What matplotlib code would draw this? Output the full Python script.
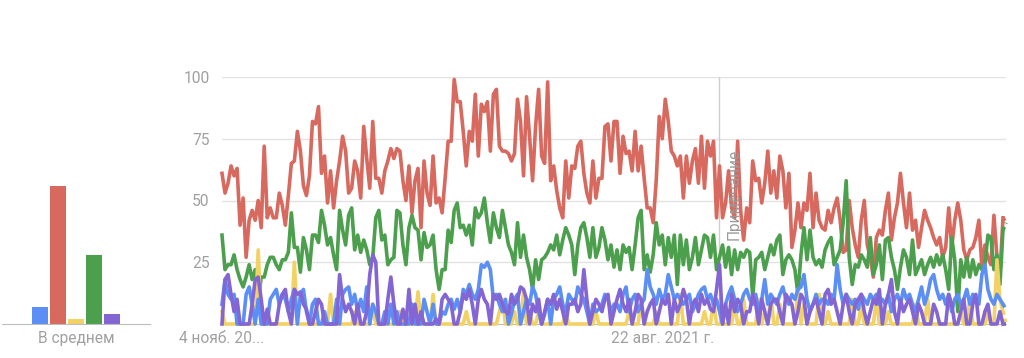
import matplotlib
matplotlib.use("Agg")
import matplotlib.pyplot as plt
import pandas as pd

plt.rcParams['font.family'] = ['Roboto', 'DejaVu Sans']

# weekly values
red = [61, 53, 57, 64, 60, 63, 40, 51, 27, 42, 46, 42, 50, 39, 72, 43, 47, 43, 43, 53,
       48, 40, 52, 65, 66, 78, 70, 56, 52, 60, 82, 81, 88, 61, 68, 49, 62, 47, 58, 66,
       76, 70, 53,
       55, 66, 62, 51, 80, 67, 55, 82, 59, 59, 53, 62, 66, 71, 67, 71, 70, 58, 50, 64,
       45, 58, 63, 39, 66, 53, 48, 68, 49, 51, 45, 59, 74, 74, 99, 90, 90, 78, 64, 78,
       74, 93, 68, 89,
       86, 90, 70, 93, 95, 72, 70, 70, 69, 66, 69, 91, 82, 60, 92, 76, 58, 80, 95, 68,
       65, 98, 58, 64, 54, 47, 43, 66, 51, 64, 63, 72, 74, 61, 53, 49, 66, 51, 59, 59,
       80, 81, 66, 82,
       82, 61, 76, 69, 70, 62, 78, 62, 72, 59, 47, 47, 41, 58, 84, 75, 91, 82, 70, 68,
       64, 68, 51, 68, 57, 66, 71, 57, 76, 55, 74, 68, 74, 43, 64, 43, 49, 62, 47, 43,
       74, 46, 34, 47,
       41, 66, 58, 59, 49, 57, 70, 53, 62, 51, 68, 62, 47, 61, 31, 38, 49, 39, 49, 46,
       61, 39, 53, 42, 39, 38, 46, 41, 47, 51, 42, 29, 30, 50, 39, 32, 27, 42, 50, 32,
       27, 19, 35, 38,
       36, 46, 53, 34, 43, 49, 61, 49, 39, 53, 38, 42, 31, 39, 46, 42, 39, 35, 32, 35,
       27, 31, 47, 31, 42, 49, 42, 30, 26, 30, 31, 35, 42, 23, 32, 27, 24, 44, 27, 20,
       43, 41]

green = [36, 22, 24, 24, 28, 22, 18, 15, 19, 24, 18, 22, 8, 19, 19, 24, 27, 27, 24, 22,
         26, 26, 29, 45, 31, 31, 21, 35, 30, 22, 36, 36, 33, 46, 40, 32, 35, 28, 22, 46,
         38, 32, 44,
         47, 30, 36, 29, 34, 30, 24, 27, 43, 46, 34, 36, 24, 26, 27, 46, 45, 32, 24, 39,
         44, 39, 38, 26, 37, 31, 32, 36, 22, 14, 22, 22, 38, 33, 46, 49, 39, 40, 36, 40,
         32, 47, 43, 45,
         51, 41, 33, 45, 39, 35, 46, 39, 32, 29, 24, 41, 27, 36, 27, 22, 14, 26, 18, 26,
         27, 29, 32, 30, 36, 28, 34, 39, 36, 32, 20, 32, 39, 41, 35, 27, 39, 27, 31, 39,
         34, 26, 32, 23,
         30, 22, 32, 29, 31, 22, 32, 43, 46, 22, 28, 21, 28, 41, 32, 36, 24, 35, 27, 36,
         16, 36, 24, 34, 22, 27, 35, 24, 30, 36, 35, 27, 36, 22, 27, 32, 23, 31, 20, 30,
         22, 29, 27, 30,
         29, 11, 26, 27, 29, 22, 27, 32, 28, 34, 36, 20, 26, 28, 26, 22, 12, 28, 39, 26,
         38, 27, 24, 26, 23, 30, 33, 35, 24, 27, 30, 41, 58, 27, 16, 24, 23, 28, 26, 23,
         35, 20, 24, 32,
         18, 34, 35, 27, 22, 14, 23, 30, 27, 20, 34, 20, 23, 26, 20, 24, 27, 23, 28, 24,
         28, 22, 14, 35, 26, 5, 26, 19, 27, 19, 26, 20, 24, 22, 24, 36, 35, 22, 28, 16,
         38, 41]

blue = [8, 18, 12, 10, 12, 0, 0, 0, 12, 15, 8, 0, 10, 0, 0, 0, 10, 12, 14, 8,
        12, 10, 5, 10, 14, 0, 12, 14, 5, 0, 8, 10, 0, 0, 5, 0, 0, 0, 10, 0,
        12, 14, 15,
        8, 12, 5, 10, 5, 15, 0, 8, 5, 0, 0, 5, 0, 8, 0, 5, 0, 0, 0, 0,
        8, 0, 0, 0, 10, 5, 0, 8, 0, 0, 5, 4, 8, 10, 6, 10, 5, 14, 12, 16,
        12, 10, 14, 24,
        23, 25, 22, 10, 12, 8, 5, 10, 0, 4, 10, 12, 0, 5, 10, 8, 15, 12, 5, 0,
        4, 10, 0, 10, 12, 15, 8, 5, 12, 10, 8, 15, 12, 10, 5, 0, 8, 5, 6, 8,
        12, 10, 5, 8,
        8, 5, 12, 15, 5, 10, 12, 5, 8, 10, 22, 15, 12, 8, 14, 10, 12, 20, 15, 10,
        12, 10, 8, 10, 12, 5, 8, 12, 14, 15, 10, 12, 8, 10, 5, 0, 8, 12, 15, 10,
        5, 8, 12, 14,
        10, 8, 12, 5, 10, 18, 8, 12, 10, 8, 12, 15, 10, 8, 12, 10, 14, 15, 20, 10,
        5, 8, 12, 8, 10, 10, 8, 12, 10, 24, 14, 8, 12, 10, 8, 10, 6, 12, 10, 8,
        12, 10, 12, 8,
        10, 8, 12, 5, 10, 12, 8, 14, 10, 12, 8, 5, 10, 15, 8, 12, 18, 20, 14, 10,
        12, 8, 12, 5, 10, 12, 8, 10, 14, 8, 12, 10, 8, 20, 24, 14, 10, 8, 12, 10,
        8, 6]

yellow = [5, 0, 0, 0, 0, 0, 0, 0, 0, 0, 0, 0, 30, 0, 0, 0, 0, 0, 0, 0,
          0, 0, 0, 0, 25, 0, 0, 0, 0, 0, 0, 0, 0, 0, 0, 0, 12, 0, 0, 0,
          0, 0, 0,
          0, 5, 0, 0, 0, 0, 0, 8, 0, 0, 0, 0, 0, 0, 0, 0, 5, 0, 0, 0,
          0, 0, 13, 0, 0, 0, 0, 12, 0, 0, 0, 0, 0, 0, 0, 0, 0, 0, 5, 0,
          0, 0, 0, 0,
          0, 0, 0, 0, 0, 5, 10, 0, 0, 0, 5, 0, 0, 13, 0, 5, 0, 0, 5, 0,
          0, 0, 0, 0, 0, 0, 0, 5, 0, 0, 0, 0, 0, 0, 0, 0, 0, 5, 0, 0,
          0, 0, 0, 0,
          0, 0, 0, 0, 5, 0, 0, 0, 10, 0, 0, 0, 0, 5, 0, 0, 0, 0, 0, 0,
          0, 12, 0, 0, 0, 0, 0, 0, 0, 5, 0, 0, 10, 0, 0, 0, 0, 0, 0, 8,
          0, 0, 10, 0,
          0, 0, 0, 10, 0, 5, 0, 12, 0, 0, 8, 0, 0, 0, 0, 0, 14, 0, 8, 0,
          0, 0, 0, 12, 0, 0, 5, 0, 0, 0, 0, 0, 0, 0, 10, 0, 0, 8, 0, 0,
          0, 0, 10, 0,
          0, 0, 5, 0, 0, 0, 0, 0, 0, 0, 0, 8, 0, 0, 0, 10, 0, 0, 0, 0,
          0, 0, 0, 0, 0, 0, 5, 0, 0, 10, 0, 0, 0, 0, 0, 5, 0, 0, 26, 10,
          5, 0]

purple = [0, 18, 20, 12, 5, 10, 0, 0, 0, 0, 8, 18, 19, 10, 0, 6, 0, 0, 0, 8,
          12, 14, 5, 0, 14, 12, 13, 8, 6, 0, 0, 5, 10, 8, 0, 0, 0, 0, 0, 20,
          10, 5, 8,
          5, 0, 8, 0, 0, 5, 20, 28, 25, 0, 0, 0, 10, 19, 8, 0, 0, 6, 0, 14,
          0, 8, 0, 5, 0, 0, 0, 0, 2, 0, 10, 12, 10, 8, 0, 0, 5, 12, 10, 14,
          8, 0, 10, 14,
          10, 8, 0, 12, 10, 12, 8, 5, 4, 12, 8, 10, 15, 14, 10, 0, 8, 5, 10, 0,
          5, 10, 8, 12, 6, 10, 5, 0, 8, 8, 10, 5, 8, 22, 10, 0, 5, 10, 8, 5,
          10, 12, 0, 5,
          10, 14, 8, 5, 10, 0, 5, 12, 10, 0, 5, 8, 10, 0, 5, 10, 8, 12, 0, 10,
          5, 8, 14, 10, 0, 8, 10, 5, 12, 8, 10, 6, 5, 14, 24, 0, 8, 0, 12, 5,
          10, 8, 0, 5,
          5, 12, 8, 0, 10, 5, 0, 8, 10, 10, 5, 0, 12, 10, 8, 0, 5, 12, 10, 0,
          5, 8, 10, 5, 0, 12, 14, 8, 10, 5, 0, 8, 12, 5, 0, 8, 10, 12, 5, 0,
          5, 10, 8, 14,
          0, 8, 12, 18, 5, 0, 10, 5, 8, 10, 5, 0, 8, 5, 0, 0, 0, 8, 5, 0,
          0, 0, 12, 8, 0, 0, 5, 10, 0, 0, 8, 12, 0, 0, 5, 8, 0, 0, 0, 5,
          0, 0]

averages = [7, 56, 2, 28, 4]
avg_label = 'В среднем'
tick_dates = ['2018-11-04', '2021-08-22']
tick_labels = ['4 нояб. 20...', '22 авг. 2021 г.']
note_date = '2022-01-01'
note_text = 'Примечание'

lens = [len(s) for s in (red, green, blue, yellow, purple)]
assert len(set(lens)) == 1, lens

dates = pd.date_range('2018-11-04', periods=len(red), freq='7D')

c_blue = '#5b8ff5'
c_red = '#d8695f'
c_yellow = '#f2d264'
c_green = '#4c9f4c'
c_purple = '#8465d4'
grey_txt = '#a0a0a0'
fs = 11.2

fig = plt.figure(figsize=(10.24, 3.58), dpi=100)

# main line chart
ax = fig.add_axes([222 / 1024, 34 / 358, 784 / 1024, 247 / 358])
for s, c in [(red, c_red), (green, c_green), (yellow, c_yellow), (blue, c_blue), (purple, c_purple)]:
    ax.plot(dates[:-1], s[:-1], color=c, lw=2.6, solid_joinstyle='round', clip_on=False, zorder=3)
    ax.plot(dates[-2:], s[-2:], color=c, lw=2.6, ls=(0, (1, 1)), clip_on=False, zorder=3)

ax.set_xlim(dates[0], dates[-1])
ax.set_ylim(0, 100)
ax.set_yticks([25, 50, 75, 100])
ax.tick_params(axis='y', length=0, pad=9, labelsize=fs, labelcolor=grey_txt)
ax.grid(axis='y', color='#e2e2e2', lw=1)
ax.set_axisbelow(True)
ax.set_xticks(pd.to_datetime(tick_dates))
ax.set_xticklabels(tick_labels)
ax.tick_params(axis='x', length=0, pad=5, labelsize=fs, labelcolor=grey_txt)
for sp in ['top', 'right', 'left']:
    ax.spines[sp].set_visible(False)
ax.spines['bottom'].set_color('#bdbdbd')

ax.axvline(pd.Timestamp(note_date), color='#cfcfcf', lw=1, zorder=1)
ax.text(pd.Timestamp(note_date) + pd.Timedelta(days=18), 71, note_text, rotation=90,
        ha='left', va='top', color='#9a9a9a', fontsize=fs, zorder=4)

# average bars
ax2 = fig.add_axes([2 / 1024, 34 / 358, 148 / 1024, 247 / 358])
ax2.bar(range(len(averages)), averages, width=0.94,
        color=[c_blue, c_red, c_yellow, c_green, c_purple])
ax2.set_xlim(-2.11, 6.11)
ax2.set_ylim(0, 100)
ax2.set_yticks([])
ax2.set_xticks([2])
ax2.set_xticklabels([avg_label])
ax2.tick_params(axis='x', length=0, pad=5, labelsize=fs, labelcolor=grey_txt)
for sp in ['top', 'right', 'left']:
    ax2.spines[sp].set_visible(False)
ax2.spines['bottom'].set_color('#bdbdbd')

fig.savefig('out.png', dpi=100)
